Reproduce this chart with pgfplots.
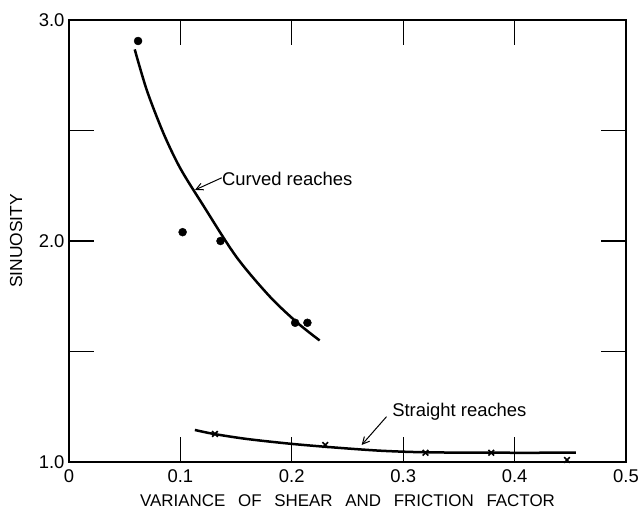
\documentclass[border=0pt]{standalone}
\usepackage{pgfplots}
\pgfplotsset{compat=1.18}
\usepackage{fontspec}
\setmainfont{Liberation Sans}
\usetikzlibrary{arrows.meta}
\newcommand\tlf{\fontsize{18.5}{18.5}\selectfont}

\begin{document}
\begin{tikzpicture}
  \begin{axis}[
    width=557bp, height=442bp, scale only axis,
    xmin=0, xmax=0.5, ymin=1, ymax=3,
    xtick={0,0.1,0.2,0.3,0.4,0.5},
    xticklabels={\tlf 0,\tlf 0.1,\tlf 0.2,\tlf 0.3,\tlf 0.4,\tlf 0.5},
    ytick={1,1.5,2,2.5,3},
    yticklabels={\tlf 1.0,,\tlf 2.0,,\tlf 3.0},
    tick align=inside,
    major tick length=25bp,
    tick style={line width=1.2bp, black},
    axis line style={line width=1.2bp},
    /pgf/number format/assume math mode=true,
    xticklabel style={yshift=-4bp},
    yticklabel style={xshift=-1bp},
    xlabel={VARIANCE\hspace{0.75em}OF\hspace{0.75em}SHEAR\hspace{0.75em}AND\hspace{0.75em}FRICTION\hspace{0.75em}FACTOR},
    xlabel style={at={(axis description cs:0.5,0)}, anchor=center, yshift=-39bp,
      font=\fontsize{17}{17}\selectfont},
    ylabel={SINUOSITY},
    ylabel style={at={(axis description cs:-0.095,0.5)}, anchor=center,
      font=\fontsize{17.5}{17.5}\selectfont},
  ]
    % fitted curves
    \addplot[black, line width=2.5bp, smooth, no markers] coordinates {
      (0.059,2.867) (0.07,2.680) (0.085,2.485) (0.10,2.328) (0.12,2.165)
      (0.15,1.930) (0.18,1.750) (0.205,1.630) (0.225,1.550)
    };
    \addplot[black, line width=2.5bp, smooth, no markers] coordinates {
      (0.113,1.145) (0.13,1.127) (0.16,1.104) (0.20,1.082)
      (0.24,1.065) (0.28,1.051) (0.32,1.044) (0.38,1.042) (0.455,1.042)
    };
    % observations
    \addplot[only marks, mark=*, mark size=4bp, black] coordinates {
      (0.062,2.905) (0.102,2.04) (0.136,2.0) (0.203,1.63) (0.214,1.63)
    };
    \addplot[only marks, mark=x, mark size=4bp, black, line width=1.6bp] coordinates {
      (0.131,1.127) (0.230,1.077) (0.320,1.042) (0.379,1.042) (0.447,1.009)
    };
    % annotations
    \node[anchor=base west, inner sep=0pt, font=\fontsize{18.5}{18.5}\selectfont]
      at (axis cs:0.1373,2.253) {Curved reaches};
    \draw[-{Straight Barb[length=7bp,width=7bp]}, line width=1bp]
      (axis cs:0.1371,2.286) -- (axis cs:0.1131,2.231);
    \node[anchor=base west, inner sep=0pt, font=\fontsize{18.5}{18.5}\selectfont]
      at (axis cs:0.290,1.205) {Straight reaches};
    \draw[-{Straight Barb[length=7bp,width=7bp]}, line width=1bp]
      (axis cs:0.285,1.205) -- (axis cs:0.2627,1.077);
  \end{axis}
  \pgfresetboundingbox
  \path[use as bounding box]
    ([xshift=-69bp,yshift=-48bp]current axis.south west)
    rectangle ([xshift=13bp,yshift=20bp]current axis.north east);
\end{tikzpicture}
\end{document}
